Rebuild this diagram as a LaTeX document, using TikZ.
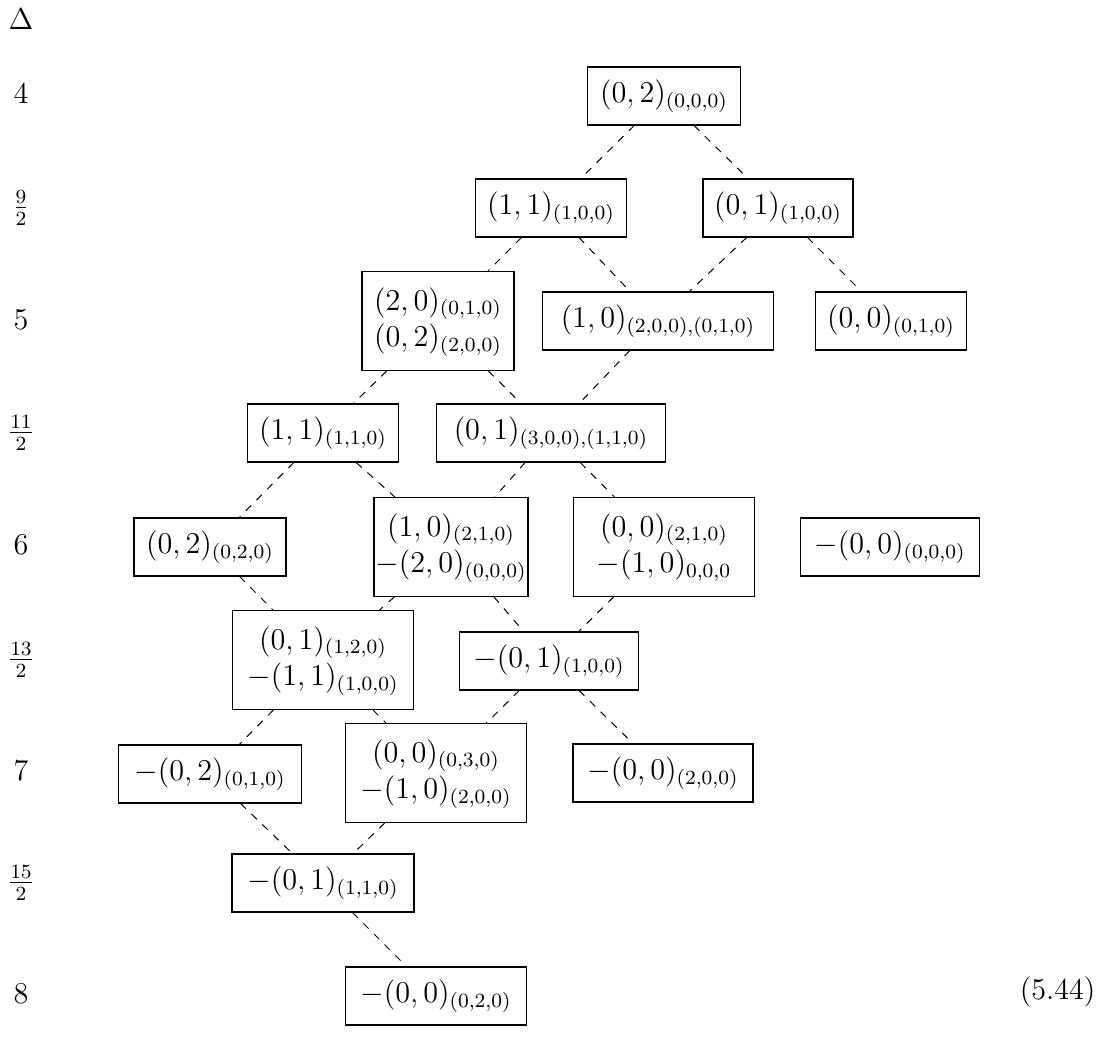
\documentclass[tikz,border=0pt,12pt]{standalone}
\begin{document}
\begin{tikzpicture}[x=0.396825pt,y=-0.396825pt,
  bx/.style 2 args={draw,inner sep=0pt,minimum width=#1*0.396825pt,minimum height=#2*0.396825pt},
  one/.style={bx={#1}{58}},
  two/.style={bx={#1}{99}},
  lbl/.style={inner sep=0pt},
  dl/.style={dashed,line width=0.4pt}]
\useasboundingbox (0,0) rectangle (1097,1038);
% row labels
\node[lbl] (lD) at (21,19) {$\Delta$};
\node[lbl] (l4) at (21,94) {$4$};
\node[lbl] (l9) at (21,208) {$\frac{9}{2}$};
\node[lbl] (l5) at (21,320) {$5$};
\node[lbl] (l11) at (21,433) {$\frac{11}{2}$};
\node[lbl] (l6) at (21,545) {$6$};
\node[lbl] (l13) at (21,660) {$\frac{13}{2}$};
\node[lbl] (l7) at (21,771) {$7$};
\node[lbl] (l15) at (21,883) {$\frac{15}{2}$};
\node[lbl] (l8) at (21,994) {$8$};
% nodes
\node[one=153] (n1) at (664,96) {$(0,2)_{(0,0,0)}$};
\node[one=151] (n2) at (551,208) {$(1,1)_{(1,0,0)}$};
\node[one=150] (n3) at (778,208) {$(0,1)_{(1,0,0)}$};
\node[two=152] (n4) at (438,321) {$\begin{array}{@{}c@{}}(2,0)_{(0,1,0)}\\(0,2)_{(2,0,0)}\end{array}$};
\node[one=231] (n5) at (658,321) {$(1,0)_{(2,0,0),(0,1,0)}$};
\node[one=151] (n6) at (891,321) {$(0,0)_{(0,1,0)}$};
\node[one=151] (n7) at (323,433) {$(1,1)_{(1,1,0)}$};
\node[one=229] (n8) at (551,433) {$(0,1)_{(3,0,0),(1,1,0)}$};
\node[one=152] (n9) at (210,547) {$(0,2)_{(0,2,0)}$};
\node[two=154] (n10) at (451,547) {$\begin{array}{@{}c@{}}(1,0)_{(2,1,0)}\\-(2,0)_{(0,0,0)}\end{array}$};
\node[two=181] (n11) at (664,547) {$\begin{array}{@{}c@{}}(0,0)_{(2,1,0)}\\-(1,0)_{0,0,0}\end{array}$};
\node[one=179] (n12) at (890,547) {$-(0,0)_{(0,0,0)}$};
\node[two=181] (n13) at (323,660) {$\begin{array}{@{}c@{}}(0,1)_{(1,2,0)}\\-(1,1)_{(1,0,0)}\end{array}$};
\node[one=179] (n14) at (549,661) {$-(0,1)_{(1,0,0)}$};
\node[one=183] (n15) at (210,774) {$-(0,2)_{(0,1,0)}$};
\node[two=181] (n16) at (436,773) {$\begin{array}{@{}c@{}}(0,0)_{(0,3,0)}\\-(1,0)_{(2,0,0)}\end{array}$};
\node[one=180] (n17) at (663,773) {$-(0,0)_{(2,0,0)}$};
\node[one=182] (n18) at (323,883) {$-(0,1)_{(1,1,0)}$};
\node[one=181] (n19) at (436,996) {$-(0,0)_{(0,2,0)}$};
\node[lbl,anchor=east] (eq) at (1096,992) {$(5.44)$};
% connectors
\draw[dl] (n1) -- (n2);
\draw[dl] (n1) -- (n3);
\draw[dl] (n2) -- (n4);
\draw[dl] (n2) -- (n5);
\draw[dl] (n3) -- (n5);
\draw[dl] (n3) -- (n6);
\draw[dl] (n4) -- (n7);
\draw[dl] (n4) -- (n8);
\draw[dl] (n5) -- (n8);
\draw[dl] (n7) -- (n9);
\draw[dl] (n7) -- (n10);
\draw[dl] (n8) -- (n10);
\draw[dl] (n8) -- (n11);
\draw[dl] (n9) -- (n13);
\draw[dl] (n10) -- (n13);
\draw[dl] (n10) -- (n14);
\draw[dl] (n11) -- (n14);
\draw[dl] (n13) -- (n15);
\draw[dl] (n13) -- (n16);
\draw[dl] (n14) -- (n16);
\draw[dl] (n14) -- (n17);
\draw[dl] (n15) -- (n18);
\draw[dl] (n16) -- (n18);
\draw[dl] (n18) -- (n19);
\end{tikzpicture}
\end{document}
